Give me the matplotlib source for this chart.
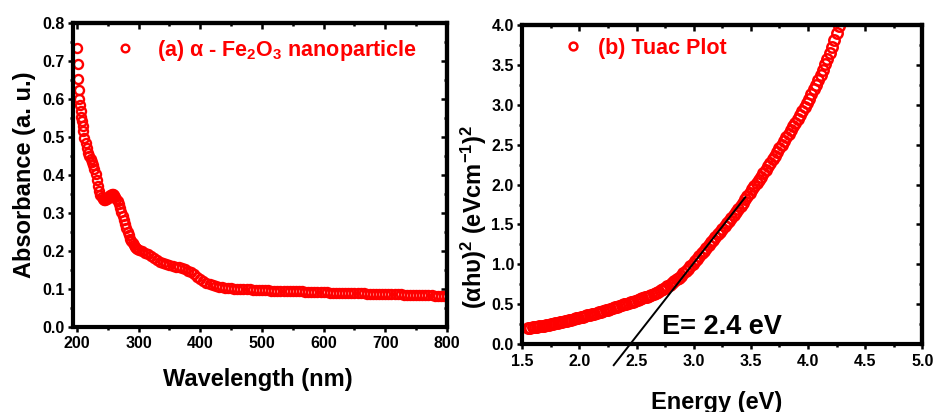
import matplotlib
matplotlib.use('Agg')
import matplotlib.pyplot as plt
from matplotlib.ticker import MultipleLocator, FormatStrFormatter

plt.rcParams['font.family'] = ['Liberation Sans', 'DejaVu Sans']
plt.rcParams['font.weight'] = 'bold'
plt.rcParams['mathtext.fontset'] = 'custom'
plt.rcParams['mathtext.rm'] = 'Liberation Sans:bold'
plt.rcParams['mathtext.bf'] = 'Liberation Sans:bold'
plt.rcParams['mathtext.it'] = 'Liberation Sans:bold'
plt.rcParams['mathtext.default'] = 'rm'

# (a) UV-vis absorbance
wavelength = [200, 201, 202, 203, 204, 205, 206, 207, 208, 209, 210,
              212, 214, 216, 218, 220, 222, 224, 226, 228, 230,
              232, 234, 236, 238, 240, 242, 244, 246, 248, 250,
              252, 254, 256, 258, 260, 262, 264, 266, 268, 270,
              272, 274, 276, 278, 280, 282, 284, 286, 288, 290,
              292, 294, 296, 298, 300,
              305, 310, 315, 320, 325, 330, 335, 340, 345, 350,
              355, 360, 365, 370, 375, 380, 385, 390, 395, 400,
              405, 410, 415, 420, 425, 430, 435, 440, 445, 450,
              455, 460, 465, 470, 475, 480, 485, 490, 495, 500,
              505, 510, 515, 520, 525, 530, 535, 540, 545, 550,
              555, 560, 565, 570, 575, 580, 585, 590, 595, 600,
              605, 610, 615, 620, 625, 630, 635, 640, 645, 650,
              655, 660, 665, 670, 675, 680, 685, 690, 695, 700,
              705, 710, 715, 720, 725, 730, 735, 740, 745, 750,
              755, 760, 765, 770, 775, 780, 785, 790, 795, 800]
absorbance = [.733, .690, .652, .623, .599, .583, .567, .553, .540, .527, .515,
              .497, .483, .470, .458, .449, .441, .433, .425, .415, .402,
              .385, .370, .356, .346, .340, .336, .334, .334, .336, .339,
              .343, .346, .348, .348, .346, .342, .337, .330, .322, .313,
              .303, .292, .281, .270, .260, .250, .241, .232, .225, .219,
              .214, .210, .207, .204, .202,
              .198, .195, .191, .187, .182, .176, .171, .167, .164, .162,
              .160, .158, .156, .154, .151, .147, .143, .138, .132, .126,
              .121, .116, .112, .109, .107, .105, .104, .103, .102, .101,
              .100, .100, .099, .099, .098, .098, .097, .097, .097, .096,
              .096, .096, .095, .095, .095, .095, .094, .094, .094, .094,
              .093, .093, .093, .092, .092, .092, .092, .091, .091, .091,
              .091, .090, .090, .090, .090, .089, .089, .089, .089, .088,
              .088, .088, .088, .087, .087, .087, .087, .086, .086, .086,
              .086, .085, .085, .085, .085, .084, .084, .084, .084, .084,
              .083, .083, .083, .083, .083, .082, .082, .082, .082, .082]

# (b) Tauc plot
energy = [1.55, 1.57, 1.59, 1.61, 1.63, 1.65, 1.67, 1.69, 1.71, 1.73,
          1.75, 1.77, 1.79, 1.81, 1.83, 1.85, 1.87, 1.89, 1.91, 1.93,
          1.95, 1.97, 1.99, 2.01, 2.03, 2.05, 2.07, 2.09, 2.11, 2.13,
          2.15, 2.17, 2.19, 2.21, 2.23, 2.25, 2.27, 2.29, 2.31, 2.33,
          2.35, 2.37, 2.39, 2.41, 2.43, 2.45, 2.47, 2.49, 2.51, 2.53,
          2.55, 2.57, 2.59, 2.61, 2.63, 2.65, 2.67, 2.69, 2.71, 2.73,
          2.75, 2.77, 2.79, 2.81, 2.83, 2.85, 2.87, 2.89, 2.91, 2.93,
          2.95, 2.97, 2.99, 3.01, 3.03, 3.05, 3.07, 3.09, 3.11, 3.13,
          3.15, 3.17, 3.19, 3.21, 3.23, 3.25, 3.27, 3.29, 3.31, 3.33,
          3.35, 3.37, 3.39, 3.41, 3.43, 3.45, 3.47, 3.49, 3.51, 3.53,
          3.55, 3.57, 3.59, 3.61, 3.63, 3.65, 3.67, 3.69, 3.71, 3.73,
          3.75, 3.77, 3.79, 3.81, 3.83, 3.85, 3.87, 3.89, 3.91, 3.93,
          3.95, 3.97, 3.99, 4.01, 4.03, 4.05, 4.07, 4.09, 4.11, 4.13,
          4.15, 4.17, 4.19, 4.21, 4.23, 4.25, 4.27]
tauc = [.200, .204, .208, .212, .218, .223, .228, .232, .238, .243,
        .249, .254, .259, .265, .272, .278, .285, .291, .299, .307,
        .315, .323, .331, .339, .345, .352, .359, .366, .374, .382,
        .390, .398, .406, .415, .424, .433, .442, .451, .460, .469,
        .478, .487, .496, .505, .514, .523, .532, .541, .551, .562,
        .573, .584, .594, .607, .619, .632, .645, .658, .674, .691,
        .708, .725, .742, .762, .786, .810, .834, .858, .885, .915,
        .945, .975, 1.005, 1.037, 1.071, 1.105, 1.139, 1.173, 1.207, 1.241,
        1.275, 1.309, 1.343, 1.377, 1.411, 1.445, 1.479, 1.513, 1.548, 1.584,
        1.620, 1.656, 1.692, 1.731, 1.773, 1.815, 1.857, 1.899, 1.940, 1.980,
        2.020, 2.060, 2.100, 2.142, 2.186, 2.230, 2.274, 2.318, 2.363, 2.409,
        2.455, 2.501, 2.547, 2.593, 2.639, 2.685, 2.731, 2.777, 2.825, 2.875,
        2.925, 2.975, 3.025, 3.079, 3.137, 3.195, 3.253, 3.311, 3.374, 3.442,
        3.510, 3.578, 3.646, 3.724, 3.813, 3.901, 3.990]

# linear fit of the absorption edge
fit_energy = [2.30, 3.45]
fit_tauc = [-0.265, 1.84]

RED = '#ff0000'

fig = plt.figure(figsize=(9.36, 4.12), dpi=100)
ax1 = fig.add_axes([0.078, 0.207, 0.3995, 0.738])
ax2 = fig.add_axes([0.558, 0.165, 0.4274, 0.774])


def style_axes(ax, xmaj, xmin, ymaj, ymin):
    for s in ax.spines.values():
        s.set_linewidth(3)
    ax.xaxis.set_major_locator(MultipleLocator(xmaj))
    ax.xaxis.set_minor_locator(MultipleLocator(xmin))
    ax.yaxis.set_major_locator(MultipleLocator(ymaj))
    ax.yaxis.set_minor_locator(MultipleLocator(ymin))
    ax.tick_params(which='major', direction='out', length=3.5, width=1.8,
                   labelsize=11.5)
    ax.tick_params(which='minor', direction='out', length=2, width=1.8)
    ax.tick_params(axis='x', pad=3.5)
    ax.tick_params(axis='y', pad=2.5)
    # inward ticks on top and right
    top = ax.secondary_xaxis('top')
    top.xaxis.set_major_locator(MultipleLocator(xmaj))
    top.xaxis.set_minor_locator(MultipleLocator(xmin))
    top.tick_params(which='major', direction='in', length=4, width=1.8, labeltop=False)
    top.tick_params(which='minor', direction='in', length=2.5, width=1.8)
    top.spines['top'].set_linewidth(3)
    right = ax.secondary_yaxis('right')
    right.yaxis.set_major_locator(MultipleLocator(ymaj))
    right.yaxis.set_minor_locator(MultipleLocator(ymin))
    right.tick_params(which='major', direction='in', length=4, width=1.8, labelright=False)
    right.tick_params(which='minor', direction='in', length=2.5, width=1.8)
    right.spines['right'].set_linewidth(3)


# panel (a)
ax1.plot(wavelength, absorbance, 'o', mfc='none', mec=RED, ms=6.5, mew=1.7,
         label=r'(a) α - Fe$_2$O$_3$ nanoparticle')
ax1.set_xlim(193.5, 800)
ax1.set_ylim(0, 0.8)
style_axes(ax1, 100, 50, 0.1, 0.05)
ax1.yaxis.set_major_formatter(FormatStrFormatter('%.1f'))
ax1.set_xlabel('Wavelength (nm)', fontsize=17, fontweight='bold')
ax1.set_ylabel('Absorbance (a. u.)', fontsize=17, fontweight='bold')
ax1.xaxis.set_label_coords(0.495, -0.175)
ax1.xaxis.label.set_va('center')
ax1.yaxis.set_label_coords(-0.13, 0.5)
ax1.yaxis.label.set_va('center')
ax1.legend(loc='upper left', bbox_to_anchor=(0.117, 0.95), frameon=False,
           handlelength=0.8, handletextpad=1.05, borderpad=0, borderaxespad=0,
           labelcolor=RED, markerscale=0.85, prop={'size': 15.5, 'weight': 'bold'})

# panel (b)
ax2.plot(energy, tauc, 'o', mfc='none', mec=RED, ms=7.5, mew=1.8, label='(b) Tuac Plot')
ax2.plot(fit_energy, fit_tauc, '-', color='black', lw=1.4, clip_on=False, zorder=5)
ax2.set_xlim(1.5, 5.0)
ax2.set_ylim(0, 4.0)
style_axes(ax2, 0.5, 0.25, 0.5, 0.25)
ax2.xaxis.set_major_formatter(FormatStrFormatter('%.1f'))
ax2.yaxis.set_major_formatter(FormatStrFormatter('%.1f'))
ax2.text(2.72, 0.217, 'E= 2.4 eV', fontsize=19.5, fontweight='bold', va='center', ha='left')
ax2.set_xlabel('Energy (eV)', fontsize=17, fontweight='bold')
ax2.set_ylabel(r'(αhυ)$^2$ (eVcm$^{-1}$)$^2$', fontsize=17, fontweight='bold')
ax2.xaxis.set_label_coords(0.487, -0.182)
ax2.xaxis.label.set_va('center')
ax2.yaxis.set_label_coords(-0.12, 0.399)
ax2.yaxis.label.set_va('center')
ax2.legend(loc='upper left', bbox_to_anchor=(0.106, 0.96), frameon=False,
           handlelength=0.8, handletextpad=0.75, borderpad=0, borderaxespad=0,
           labelcolor=RED, markerscale=0.75, prop={'size': 15.5, 'weight': 'bold'})

plt.savefig('out.png', dpi=100)
print('Plot saved to out.png')
